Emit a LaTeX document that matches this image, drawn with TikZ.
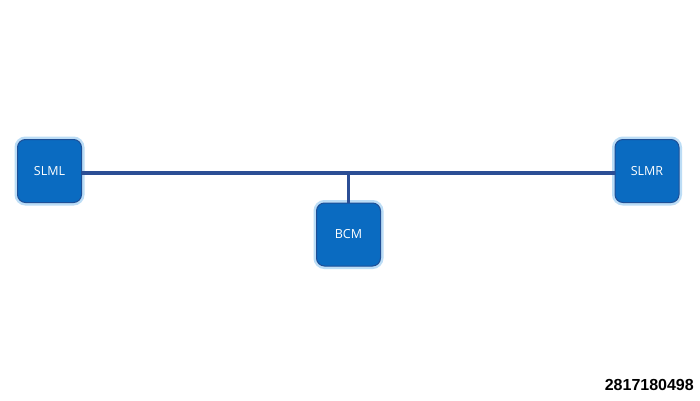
\documentclass[tikz,border=0pt]{standalone}
\usepackage{fontspec}
\setmainfont{Open Sans}
\newfontfamily\numfont{Liberation Sans}
\definecolor{boxfill}{HTML}{0A6BC1}
\definecolor{boxline}{HTML}{1F4F96}
\definecolor{glow}{HTML}{BCDDF6}
\definecolor{bus}{HTML}{2B4E95}
\begin{document}
\begin{tikzpicture}[x=1pt,y=1pt,
  ecu/.style={rectangle, rounded corners=8pt, minimum width=64pt, minimum height=63pt,
    fill=boxfill, draw=boxline, line width=1pt, text=white, font=\fontsize{12.5}{14}\selectfont,
    preaction={draw=glow, line width=6pt}},
  busline/.style={draw=bus, line width=3.5pt}]
\useasboundingbox (0,0) rectangle (700,400);
\fill[white] (0,0) rectangle (700,400);
\coordinate (jn) at (348.5,227);
\node[ecu] (slml) at (49.5,229) {SLML};
\node[ecu] (slmr) at (647,229) {SLMR};
\node[ecu] (bcm) at (348.5,165.5) {BCM};
\draw[busline] (slml.east |- jn) -- (slmr.west |- jn);
\draw[busline] (jn) -- (bcm.north);
\node[font=\numfont\bfseries\fontsize{16}{18}\selectfont, anchor=east, inner sep=0pt] (num) at (694,15) {2817180498};
\end{tikzpicture}
\end{document}
